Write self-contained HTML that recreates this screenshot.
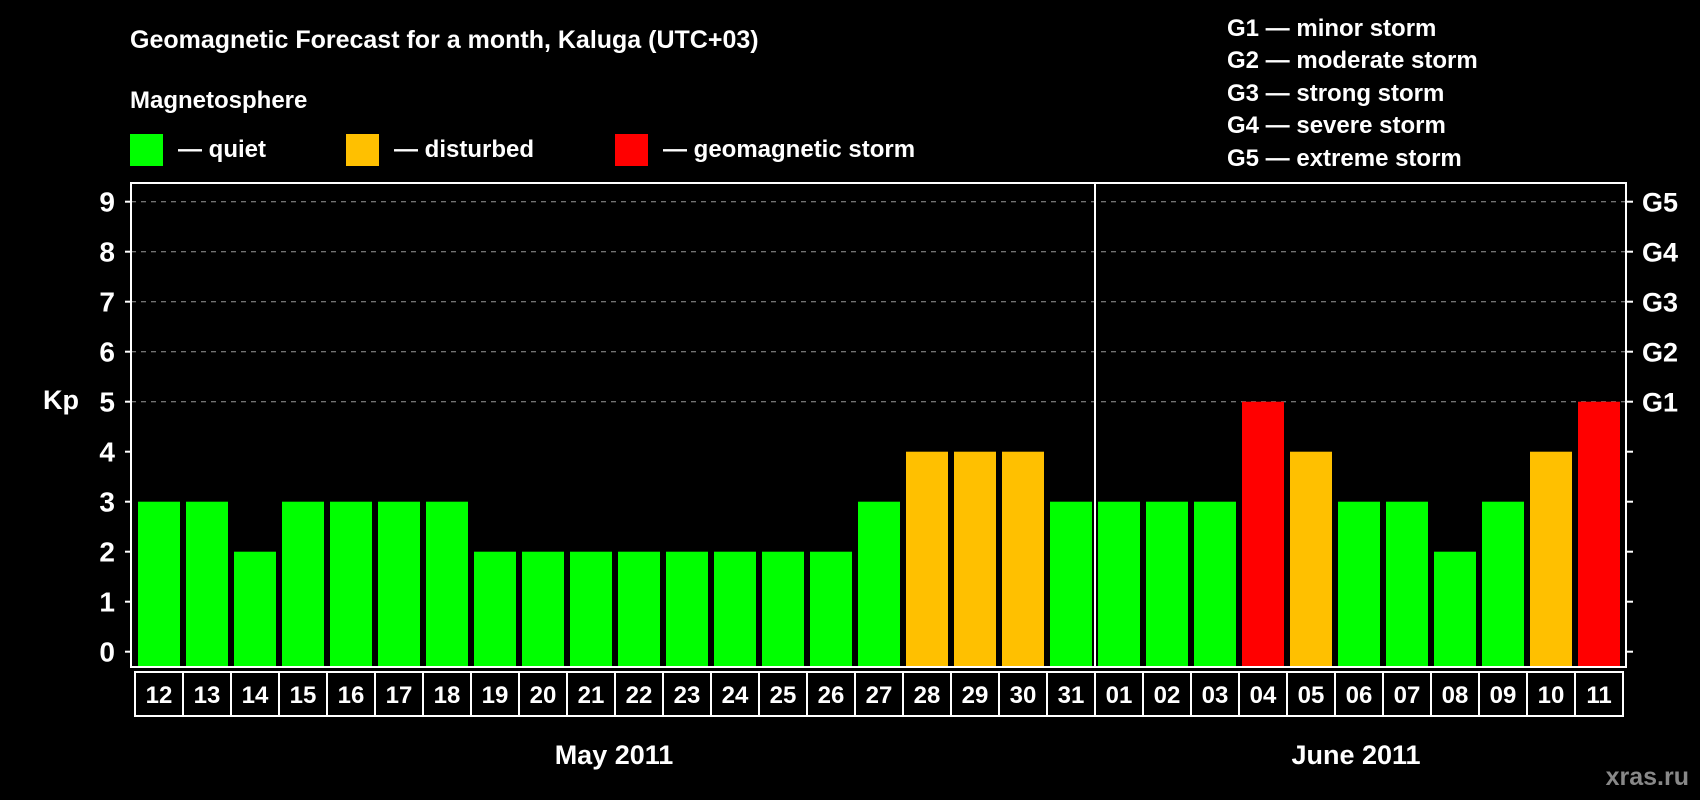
<!DOCTYPE html>
<html><head><meta charset="utf-8"><style>
html,body{margin:0;padding:0;background:#000;}
svg{display:block;font-family:"Liberation Sans",sans-serif;font-weight:bold;}
</style></head><body>
<svg width="1700" height="800" viewBox="0 0 1700 800">
<rect width="1700" height="800" fill="#000"/>
<text x="130" y="48" fill="#fff" font-size="25">Geomagnetic Forecast for a month, Kaluga (UTC+03)</text>
<text x="130" y="108" fill="#fff" font-size="24">Magnetosphere</text>
<rect x="130" y="134" width="33" height="32" fill="#00ff00"/>
<text x="178" y="157" fill="#fff" font-size="24">— quiet</text>
<rect x="346" y="134" width="33" height="32" fill="#ffc000"/>
<text x="394" y="157" fill="#fff" font-size="24">— disturbed</text>
<rect x="615" y="134" width="33" height="32" fill="#ff0000"/>
<text x="663" y="157" fill="#fff" font-size="24">— geomagnetic storm</text>
<g font-size="24" fill="#fff">
<text x="1227" y="36">G1 — minor storm</text>
<text x="1227" y="68">G2 — moderate storm</text>
<text x="1227" y="101">G3 — strong storm</text>
<text x="1227" y="133">G4 — severe storm</text>
<text x="1227" y="166">G5 — extreme storm</text>
</g>
<text x="43" y="409" fill="#fff" font-size="27">Kp</text>
<g id="plot"></g>
<text x="614" y="764" fill="#fff" font-size="27" text-anchor="middle">May 2011</text>
<text x="1356" y="764" fill="#fff" font-size="27" text-anchor="middle">June 2011</text>
<text x="1689" y="785" fill="#888" font-size="25" text-anchor="end">xras.ru</text>
</svg>
<script>
const days = ["12","13","14","15","16","17","18","19","20","21","22","23","24","25","26","27","28","29","30","31","01","02","03","04","05","06","07","08","09","10","11"];
const kpValues = [3,3,2,3,3,3,3,2,2,2,2,2,2,2,2,3,4,4,4,3,3,3,3,5,4,3,3,2,3,4,5];
const yTicks = [0,1,2,3,4,5,6,7,8,9];
const gLabels = ["G1","G2","G3","G4","G5"];
const gLevels = [5,6,7,8,9];
const monthBreakIndex = 20;

const NS = "http://www.w3.org/2000/svg";
const g = document.getElementById("plot");
const L=131,R=1626,T=183,B=667,X0=135,SW=(1623-135)/31;
const y = v => 651.7 - v*50;
const x = i => X0 + i*SW;
function mk(tag, attrs){const e=document.createElementNS(NS,tag);for(const k in attrs)e.setAttribute(k,attrs[k]);g.appendChild(e);return e;}
gLevels.forEach(v=>{
  const e=mk("line",{x1:L,x2:R,y1:y(v),y2:y(v),stroke:"#999","stroke-dasharray":"5,5","stroke-width":1});
  
  
});
kpValues.forEach((v,i)=>{
  const c = v>=5?"#ff0000":(v>=4?"#ffc000":"#00ff00");
  const e=mk("rect",{x:x(i)+3,y:y(v),width:SW-6,height:B-y(v),fill:c});
  
  
});
const fr=mk("rect",{x:L,y:T,width:R-L,height:B-T,fill:"none",stroke:"#fff","stroke-width":2});


const dv=mk("line",{x1:x(monthBreakIndex),x2:x(monthBreakIndex),y1:T,y2:B,stroke:"#fff","stroke-width":2});


yTicks.forEach(v=>{
  const t=mk("line",{x1:L-6,x2:L,y1:y(v),y2:y(v),stroke:"#fff","stroke-width":2});
  
  
  const t2=mk("line",{x1:R,x2:R+7,y1:y(v),y2:y(v),stroke:"#fff","stroke-width":2});
  
  
  const l=mk("text",{x:115,y:y(v)+10,fill:"#fff","font-size":28,"text-anchor":"end"});
  l.textContent=v;
  
  
});
gLabels.forEach((s,i)=>{
  const l=mk("text",{x:1642,y:y(gLevels[i])+10,fill:"#fff","font-size":27});
  l.textContent=s;
  
  
});
days.forEach((d,i)=>{
  const r=mk("rect",{x:x(i),y:672,width:SW,height:44,fill:"none",stroke:"#fff","stroke-width":2});
  
  
  const l=mk("text",{x:x(i)+SW/2,y:703,fill:"#fff","font-size":24,"text-anchor":"middle"});
  l.textContent=d;
  
  
});
</script>
</body></html>
